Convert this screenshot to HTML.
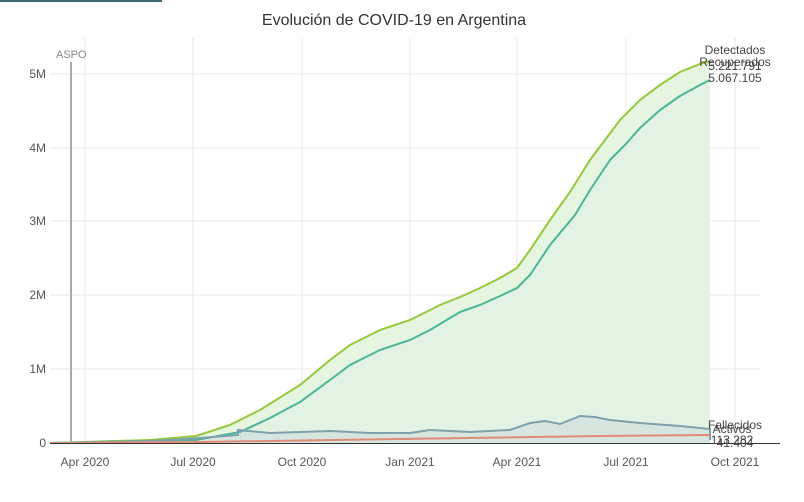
<!DOCTYPE html>
<html><head><meta charset="utf-8"><style>
body{margin:0;background:#fff;width:804px;height:497px;overflow:hidden;font-family:"Liberation Sans",sans-serif}
text{font-family:"Liberation Sans",sans-serif}
</style></head><body>
<svg width="804" height="497" viewBox="0 0 804 497">
<rect x="0" y="0" width="162" height="2" fill="#3d6b73"/>
<text x="394" y="25" text-anchor="middle" font-size="16" fill="#333">Evolución de COVID-19 en Argentina</text>
<g stroke="#e8e8e8" stroke-width="1">
<line x1="50" x2="760" y1="369" y2="369"/><line x1="50" x2="760" y1="295" y2="295"/>
<line x1="50" x2="760" y1="221" y2="221"/><line x1="50" x2="760" y1="148" y2="148"/>
<line x1="50" x2="760" y1="74" y2="74"/>
<line x1="85" x2="85" y1="38" y2="443"/><line x1="193" x2="193" y1="38" y2="443"/>
<line x1="302" x2="302" y1="38" y2="443"/><line x1="410" x2="410" y1="38" y2="443"/>
<line x1="517" x2="517" y1="38" y2="443"/><line x1="626" x2="626" y1="38" y2="443"/>
<line x1="735" x2="735" y1="38" y2="443"/>
</g>
<g font-size="12" fill="#555" text-anchor="end">
<text x="46" y="447">0</text><text x="46" y="373">1M</text><text x="46" y="299">2M</text>
<text x="46" y="225">3M</text><text x="46" y="152">4M</text><text x="46" y="78">5M</text>
</g>
<g font-size="12" fill="#555" text-anchor="middle">
<text x="85" y="466">Apr 2020</text><text x="193" y="466">Jul 2020</text><text x="302" y="466">Oct 2020</text>
<text x="410" y="466">Jan 2021</text><text x="517" y="466">Apr 2021</text><text x="626" y="466">Jul 2021</text>
<text x="735" y="466">Oct 2021</text>
</g>
<path d="M50,443 L150,440 L196,436 L230,425 L260,410 L300,385 L330,360 L350,345 L380,330 L410,320 L440,305 L460,297 L480,288 L500,278 L517,268 L530,250 L550,220 L570,192 L590,160 L605,140 L620,120 L640,100 L660,85 L680,72 L700,64 L710,61 L710,443 Z" fill="#e6f5df"/>
<path d="M50,443 L196,440 L240,432 L270,418 L300,402 L330,380 L350,365 L380,350 L410,340 L430,330 L460,312 L480,305 L500,296 L517,288 L530,275 L550,245 L575,215 L590,190 L610,160 L625,145 L640,128 L660,110 L680,96 L700,85 L710,80 L710,443 Z" fill="#e3f3e3"/>
<path d="M50,443 L150,441 L200,438 L238,435 L238,430 L270,433 L330,431 L370,433 L410,433 L430,430 L470,432 L510,430 L530,423 L545,421 L560,424 L580,416 L595,417 L610,420 L640,423 L680,426 L710,429 L710,443 Z" fill="#d6e6df"/>
<polyline points="50,443 150,440 196,436 230,425 260,410 300,385 330,360 350,345 380,330 410,320 440,305 460,297 480,288 500,278 517,268 530,250 550,220 570,192 590,160 605,140 620,120 640,100 660,85 680,72 700,64 710,61" fill="none" stroke="#94c93a" stroke-width="2"/>
<polyline points="50,443 196,440 240,432 270,418 300,402 330,380 350,365 380,350 410,340 430,330 460,312 480,305 500,296 517,288 530,275 550,245 575,215 590,190 610,160 625,145 640,128 660,110 680,96 700,85 710,80" fill="none" stroke="#4bb596" stroke-width="2"/>
<polyline points="50,443 150,441 200,438 238,435 238,430 270,433 330,431 370,433 410,433 430,430 470,432 510,430 530,423 545,421 560,424 580,416 595,417 610,420 640,423 680,426 710,429 710,440" fill="none" stroke="#7ea1ad" stroke-width="2"/>
<polyline points="50,443 200,442 400,439 600,436 710,435" fill="none" stroke="#e08a78" stroke-width="2"/>
<line x1="50" x2="780" y1="443.5" y2="443.5" stroke="#333" stroke-width="1"/>
<line x1="71" x2="71" y1="62" y2="443" stroke="#aaa" stroke-width="2"/>
<text x="56" y="58" font-size="11" fill="#888">ASPO</text>
<g font-size="12" fill="#444" text-anchor="middle">
<text x="735" y="54">Detectados</text><text x="735" y="66">Recuperados</text>
<text x="735" y="70">5.221.791</text><text x="735" y="82">5.067.105</text>
<text x="735" y="429">Fallecidos</text><text x="732" y="433">Activos</text>
<text x="732" y="444">113.282</text><text x="735" y="447">41.404</text>
</g>
</svg>
</body></html>
